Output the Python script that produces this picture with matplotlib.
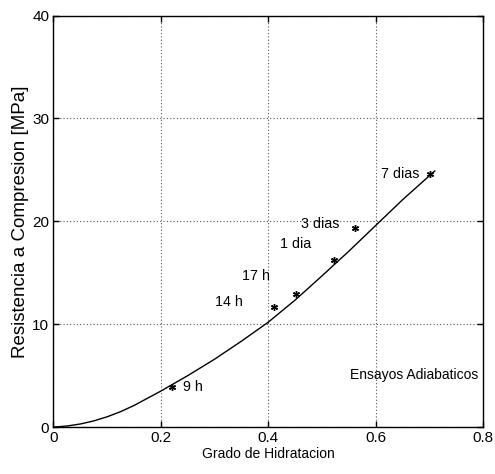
import matplotlib
matplotlib.use("Agg")
import matplotlib.pyplot as plt

plt.rcParams['font.family'] = ['Liberation Sans', 'DejaVu Sans']

# Fitted curve
curve_x = [0.0, 0.025, 0.05, 0.075, 0.10, 0.125, 0.15, 0.175, 0.20, 0.25, 0.30,
           0.35, 0.40, 0.45, 0.50, 0.55, 0.60, 0.65, 0.71]
curve_y = [0.0, 0.1, 0.3, 0.6, 1.0, 1.5, 2.1, 2.8, 3.5, 5.0, 6.6,
           8.35, 10.2, 12.35, 14.7, 17.1, 19.6, 22.1, 24.9]

# Measured points
pt_x = [0.220, 0.410, 0.451, 0.522, 0.562, 0.702]
pt_y = [3.87, 11.65, 12.92, 16.23, 19.35, 24.63]

labels = ['9 h', '14 h', '17 h', '1 dia', '3 dias', '7 dias']
label_x = [0.241, 0.300, 0.351, 0.422, 0.461, 0.610]
label_y = [3.9, 12.2, 14.7, 17.8, 19.7, 24.6]

fig = plt.figure(figsize=(4.95, 4.74), dpi=100)
ax = fig.add_axes([0.108, 0.099, 0.868, 0.868])

ax.plot(curve_x, curve_y, color='black', linewidth=1.0)
ax.plot(pt_x, pt_y, linestyle='none', marker=(6, 2, 0), markersize=5,
        markeredgewidth=1.0, color='black')

for t, x, y in zip(labels, label_x, label_y):
    ax.text(x, y, t, fontsize=10.3, va='center', ha='left')

ax.text(0.553, 5.1, 'Ensayos Adiabaticos', fontsize=10, va='center', ha='left')

ax.set_xlim(0, 0.8)
ax.set_ylim(0, 40)
ax.set_xticks([0, 0.2, 0.4, 0.6, 0.8])
ax.set_xticklabels(['0', '0.2', '0.4', '0.6', '0.8'])
ax.set_yticks([0, 10, 20, 30, 40])
ax.grid(True, color='#555555', linestyle=(0, (1, 2)), linewidth=0.8)
ax.tick_params(direction='in', top=True, right=True, labelsize=11, length=4,
               width=1.0, pad=3)
for s in ax.spines.values():
    s.set_linewidth(1.0)

ax.set_xlabel('Grado de Hidratacion', fontsize=10, labelpad=1)
ax.set_ylabel('Resistencia a Compresion [MPa]', fontsize=13.5)
ax.yaxis.set_label_coords(-0.058, 0.5)

fig.savefig('out.png', dpi=100)
